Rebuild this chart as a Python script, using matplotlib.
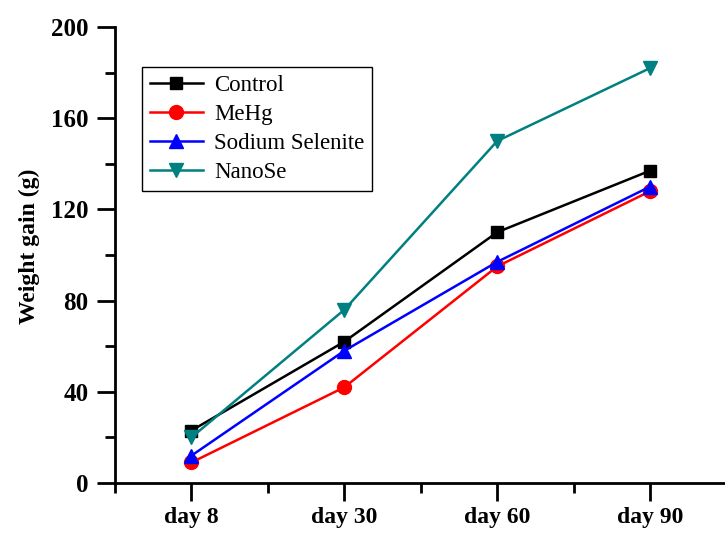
import matplotlib.pyplot as plt
from matplotlib.ticker import MultipleLocator, FixedLocator

days = ["day 8", "day 30", "day 60", "day 90"]
control = [23, 62, 110, 137]
mehg = [9, 42, 95, 128]
selenite = [12, 58, 97, 130]
nanose = [20, 76, 150, 182]

plt.rcParams["font.family"] = "Liberation Serif"

fig = plt.figure(figsize=(7.25, 5.33), dpi=100)
ax = fig.add_axes([0.1586, 0.0938, 0.8436, 0.8555])

x = [1, 2, 3, 4]
ax.plot(x, control, color="black", marker="s", ms=9, lw=1.8, label="Control")
ax.plot(x, mehg, color="red", marker="o", ms=10, lw=1.8, label="MeHg")
ax.plot(x, selenite, color="blue", marker="^", ms=10, lw=1.8, label="Sodium Selenite")
ax.plot(x, nanose, color="#008080", marker="v", ms=10, lw=1.8, label="NanoSe")

ax.set_xlim(0.5, 4.5)
ax.set_ylim(0, 200)
ax.set_xticks(x)
ax.set_xticklabels(days, fontweight="bold", fontsize=17)
ax.xaxis.set_minor_locator(FixedLocator([0.5, 1.5, 2.5, 3.5]))
ax.yaxis.set_major_locator(MultipleLocator(40))
ax.yaxis.set_minor_locator(MultipleLocator(20))
for lab in ax.get_yticklabels():
    lab.set_fontweight("bold")
    lab.set_fontsize(18)

ax.tick_params(which="major", length=13, width=2, direction="out")
ax.tick_params(axis="x", which="major", pad=4)
ax.tick_params(axis="y", which="major", pad=6)
ax.tick_params(which="minor", length=7, width=2, direction="out")
ax.spines["top"].set_visible(False)
ax.spines["right"].set_visible(False)
ax.spines["left"].set_linewidth(2)
ax.spines["bottom"].set_linewidth(2)

ax.set_ylabel("Weight gain (g)", fontweight="bold", fontsize=17)
ax.yaxis.set_label_coords(-0.123, 0.52)

leg = ax.legend(loc="upper left", bbox_to_anchor=(142 / 725, 1 - 67 / 533),
                bbox_transform=fig.transFigure, fontsize=16.5, fancybox=False,
                edgecolor="black", framealpha=1, handlelength=2.3,
                borderpad=0.35, labelspacing=0.35, handletextpad=0.5,
                borderaxespad=0)
leg.get_frame().set_linewidth(1)

fig.savefig("out.png", dpi=100)
